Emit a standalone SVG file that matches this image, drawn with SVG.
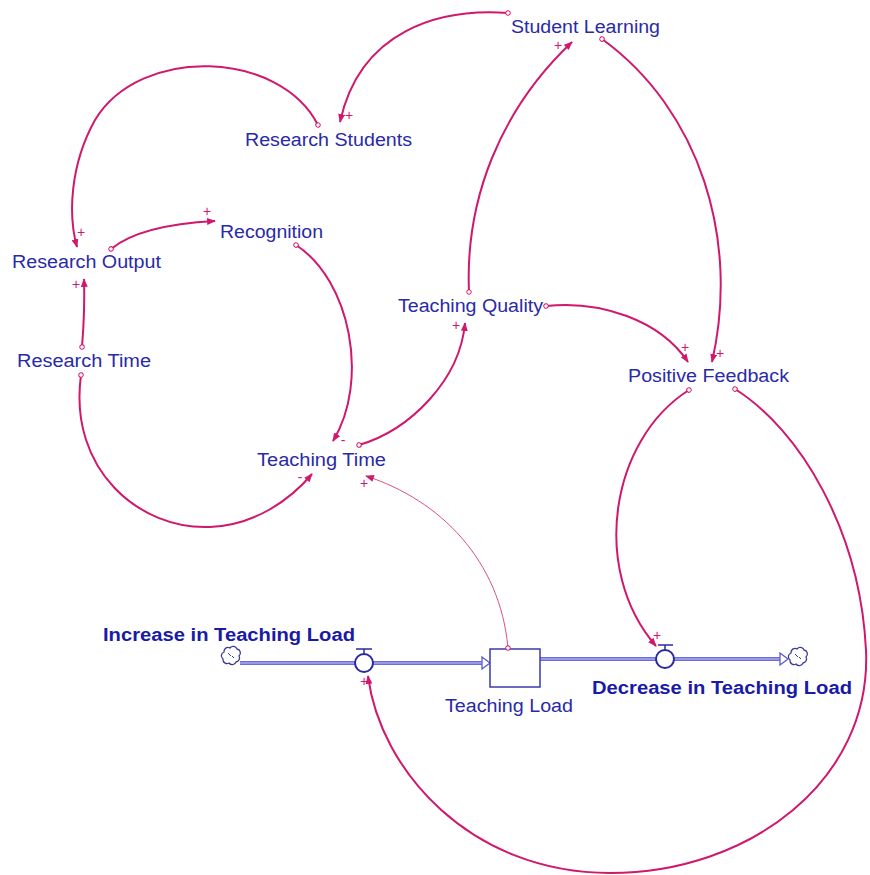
<svg xmlns="http://www.w3.org/2000/svg" width="870" height="875" viewBox="0 0 870 875">
<defs>
<style>
.lbl{font-family:"Liberation Sans",Arial,sans-serif;font-size:18px;fill:#2a2aa8}
.bold{font-weight:bold;fill:#1a1aa8}
.pol{font-family:"Liberation Sans",Arial,sans-serif;font-size:14px;fill:#d0186c}
.link{fill:none;stroke:#d0186c;stroke-width:2;marker-start:url(#dot);marker-end:url(#arr)}
.thin{stroke-width:1;stroke:#d8508c}
.pipe{fill:none;stroke:#6e6ed8;stroke-width:4}
.pipein{fill:none;stroke:#a8a8f0;stroke-width:1.5}
.valve{fill:#fff;stroke:#2a2aa0;stroke-width:2}
.cloud{fill:#fff;stroke:#3a3a9a;stroke-width:1.3}
.stock{fill:#fff;stroke:#3a3aaa;stroke-width:1.5}
.harr{fill:#fff;stroke:#5a5ad0;stroke-width:1.3}
</style>
<marker id="arr" viewBox="0 0 10 8" refX="9" refY="4" markerWidth="9" markerHeight="7" markerUnits="userSpaceOnUse" orient="auto">
<path d="M0,0 L10,4 L0,8 z" fill="#d0186c"/>
</marker>
<marker id="dot" viewBox="0 0 8 8" refX="4" refY="4" markerWidth="6" markerHeight="6" markerUnits="userSpaceOnUse" orient="auto">
<circle cx="4" cy="4" r="3" fill="#fff" stroke="#d0186c" stroke-width="1.3"/>
</marker>
</defs>
<rect width="870" height="875" fill="#fff"/>

<g id="flow">
<line class="pipe" x1="240" y1="663" x2="487" y2="663"/>
<line class="pipein" x1="240" y1="663" x2="487" y2="663"/>
<polygon class="harr" points="482,657 490,663 482,669"/>
<line class="pipe" x1="540" y1="659" x2="784" y2="659"/>
<line class="pipein" x1="540" y1="659" x2="784" y2="659"/>
<polygon class="harr" points="780,653 788,659 780,665"/>
</g>

<g id="cloud-left">
<path class="cloud" d="M224,652 a4,4 0 0 1 6,-4 a4,4 0 0 1 7,1 a4,4 0 0 1 2,7 a4,4 0 0 1 -3,6 a4,4 0 0 1 -7,1 a4,4 0 0 1 -6,-4 a4,4 0 0 1 1,-7 z"/>
<path d="M228,653 l3,3 M234,658 l-2,-2" stroke="#3a3a9a" stroke-width="1" fill="none"/>
</g>
<g id="cloud-right">
<path class="cloud" d="M791,653 a4,4 0 0 1 6,-4 a4,4 0 0 1 7,1 a4,4 0 0 1 2,7 a4,4 0 0 1 -3,6 a4,4 0 0 1 -7,1 a4,4 0 0 1 -6,-4 a4,4 0 0 1 1,-7 z"/>
<path d="M795,654 l3,3 M801,659 l-2,-2" stroke="#3a3a9a" stroke-width="1" fill="none"/>
</g>

<g id="teaching-load">
<rect class="stock" x="490" y="649" width="50" height="38"/>
<text class="lbl" x="445" y="712" textLength="128" lengthAdjust="spacingAndGlyphs">Teaching Load</text>
</g>

<g id="increase-valve">
<circle class="valve" cx="364" cy="663" r="9"/>
<line x1="356" y1="649" x2="372" y2="649" stroke="#2a2aa0" stroke-width="1.5"/>
<line x1="364" y1="649" x2="364" y2="654" stroke="#2a2aa0" stroke-width="1.5"/>
<text class="lbl bold" x="103" y="641" textLength="252" lengthAdjust="spacingAndGlyphs">Increase in Teaching Load</text>
</g>

<g id="decrease-valve">
<circle class="valve" cx="665" cy="659" r="9"/>
<line x1="658" y1="645" x2="673" y2="645" stroke="#2a2aa0" stroke-width="1.5"/>
<line x1="665" y1="645" x2="665" y2="650" stroke="#2a2aa0" stroke-width="1.5"/>
<text class="lbl bold" x="592" y="694" textLength="260" lengthAdjust="spacingAndGlyphs">Decrease in Teaching Load</text>
</g>

<g id="student-learning"><text class="lbl" x="511" y="33" textLength="149" lengthAdjust="spacingAndGlyphs">Student Learning</text></g>
<g id="research-students"><text class="lbl" x="245" y="146" textLength="167" lengthAdjust="spacingAndGlyphs">Research Students</text></g>
<g id="research-output"><text class="lbl" x="12" y="268" textLength="149" lengthAdjust="spacingAndGlyphs">Research Output</text></g>
<g id="recognition"><text class="lbl" x="220" y="238" textLength="103" lengthAdjust="spacingAndGlyphs">Recognition</text></g>
<g id="research-time"><text class="lbl" x="17" y="367" textLength="134" lengthAdjust="spacingAndGlyphs">Research Time</text></g>
<g id="teaching-quality"><text class="lbl" x="398" y="312" textLength="145" lengthAdjust="spacingAndGlyphs">Teaching Quality</text></g>
<g id="positive-feedback"><text class="lbl" x="628" y="382" textLength="161" lengthAdjust="spacingAndGlyphs">Positive Feedback</text></g>
<g id="teaching-time"><text class="lbl" x="257" y="466" textLength="129" lengthAdjust="spacingAndGlyphs">Teaching Time</text></g>

<g id="connectors">
<path class="link" d="M508,13 C440,8 360,30 340,122"/>
<path class="link" d="M318,125 C280,50 140,45 95,120 C70,165 68,215 77,247"/>
<path class="link" d="M111,249 Q140,225 215,221"/>
<path class="link" d="M82,347 Q85,310 84,279"/>
<path class="link" d="M81,375 C68,470 140,530 210,527 C255,525 290,500 312,474"/>
<path class="link" d="M296,245 C350,280 370,380 333,441"/>
<path class="link" d="M359,445 C410,430 460,380 465,323"/>
<path class="link" d="M469,292 C465,200 500,110 572,42"/>
<path class="link" d="M602,39 C700,110 740,240 712,362"/>
<path class="link" d="M546,306 C600,300 660,320 688,362"/>
<path class="link" d="M689,390 C610,440 590,570 656,646"/>
<path class="link" d="M735,389 C800,430 860,530 866,650 C872,780 750,873 610,873 C470,873 380,770 368,676"/>
<path class="link thin" d="M508,648 C500,560 440,500 366,476"/>
</g>

<g id="polarities">
<text class="pol" x="349" y="120" text-anchor="middle">+</text>
<text class="pol" x="81" y="237" text-anchor="middle">+</text>
<text class="pol" x="207" y="216" text-anchor="middle">+</text>
<text class="pol" x="76" y="289" text-anchor="middle">+</text>
<text class="pol" x="300" y="482" text-anchor="middle">-</text>
<text class="pol" x="343" y="445" text-anchor="middle">-</text>
<text class="pol" x="456" y="330" text-anchor="middle">+</text>
<text class="pol" x="558" y="50" text-anchor="middle">+</text>
<text class="pol" x="720" y="358" text-anchor="middle">+</text>
<text class="pol" x="685" y="352" text-anchor="middle">+</text>
<text class="pol" x="657" y="640" text-anchor="middle">+</text>
<text class="pol" x="364" y="686" text-anchor="middle">+</text>
<text class="pol" x="364" y="488" text-anchor="middle">+</text>
</g>
</svg>
